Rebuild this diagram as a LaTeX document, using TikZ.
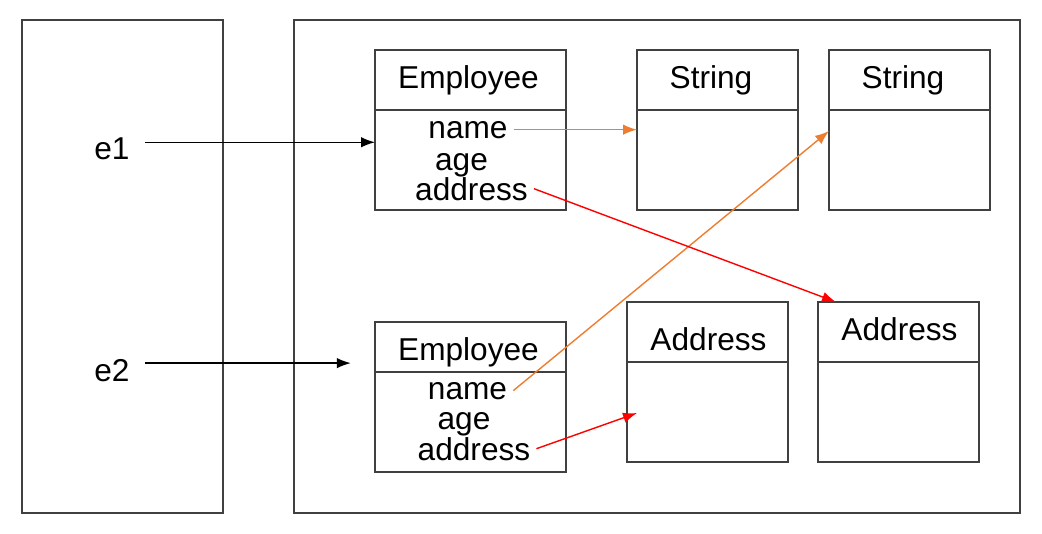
\documentclass[tikz,border=0pt]{standalone}
\usepackage{fontspec}
\setmainfont{Liberation Sans}
\usetikzlibrary{calc,positioning,arrows.meta}
\definecolor{boxgray}{RGB}{64,64,64}
\definecolor{refoj}{RGB}{237,125,49}
\tikzset{
	>={Latex[length=2.8mm,width=2.1mm]},
	frame/.style={draw=boxgray, line width=0.8pt},
	objbox/.style={draw=boxgray, line width=0.8pt, inner sep=0pt, outer sep=0pt, minimum width=3.82cm, minimum height=3.2cm},
	strbox/.style={objbox, minimum width=3.22cm},
	txt/.style={font=\fontsize{18}{22}\selectfont, anchor=base},
	ptr/.style={->, line width=0.8pt},
}

\begin{document}
\begin{tikzpicture}[x=0.02cm, y=-0.02cm]
	\useasboundingbox (0,0) rectangle (1042,534);
	% stack and heap
	\draw[frame] (22,20) rectangle (223,513);
	\draw[frame] (294,20) rectangle (1020,513);

	% objects
	\node[objbox] (emp1) at (470.5,130) {};
	\node[strbox] (str1) at (717.5,130) {};
	\node[strbox] (str2) at (909.5,130) {};
	\node[objbox, minimum height=3cm] (emp2) at (470.5,397) {};
	\node[strbox] (adr1) at (707.5,382) {};
	\node[strbox] (adr2) at (898.5,382) {};

	\draw[frame] (emp1.west |- 0,110) -- (emp1.east |- 0,110);
	\draw[frame] (str1.west |- 0,110) -- (str1.east |- 0,110);
	\draw[frame] (str2.west |- 0,110) -- (str2.east |- 0,110);
	\draw[frame] (emp2.west |- 0,372) -- (emp2.east |- 0,372);
	\draw[frame] (adr1.west |- 0,362) -- (adr1.east |- 0,362);
	\draw[frame] (adr2.west |- 0,362) -- (adr2.east |- 0,362);

	% labels
	\node[txt] (e1) at (112,159) {e1};
	\node[txt] (e2) at (112,381) {e2};
	\node[txt] at (468.5,88) {Employee};
	\node[txt] at (711,88) {String};
	\node[txt] at (903,88) {String};
	\node[txt] at (468.5,360) {Employee};
	\node[txt] at (708.5,350) {Address};
	\node[txt] at (899.5,340) {Address};

	\node[txt] (name1) at (468,138) {name};
	\node[txt] (age1) at (461.5,170) {age};
	\node[txt] (addr1) at (471.5,200) {address};
	\node[txt] (name2) at (467.5,399) {name};
	\node[txt] (age2) at (464,429) {age};
	\node[txt] (addr2) at (474,460) {address};

	% references
	\path ([shift={(9,-6)}]e1.east) coordinate (e1out);
	\draw[ptr] (e1out) -- (emp1.west |- e1out);
	\draw[ptr] ([shift={(9,-7)}]e2.east) -- ++(206,0);
	\draw[ptr, refoj] (name1.east) -- (str1.west |- name1.east);
	\draw[ptr, refoj] (name2.east) -- (str2.west |- 0,131);
	\draw[ptr, red] (addr1.east) -- ($(adr2.north west)+(18,0)$);
	\draw[ptr, red] (addr2.east) -- ($(adr1.west)+(10,31)$);
\end{tikzpicture}
\end{document}
